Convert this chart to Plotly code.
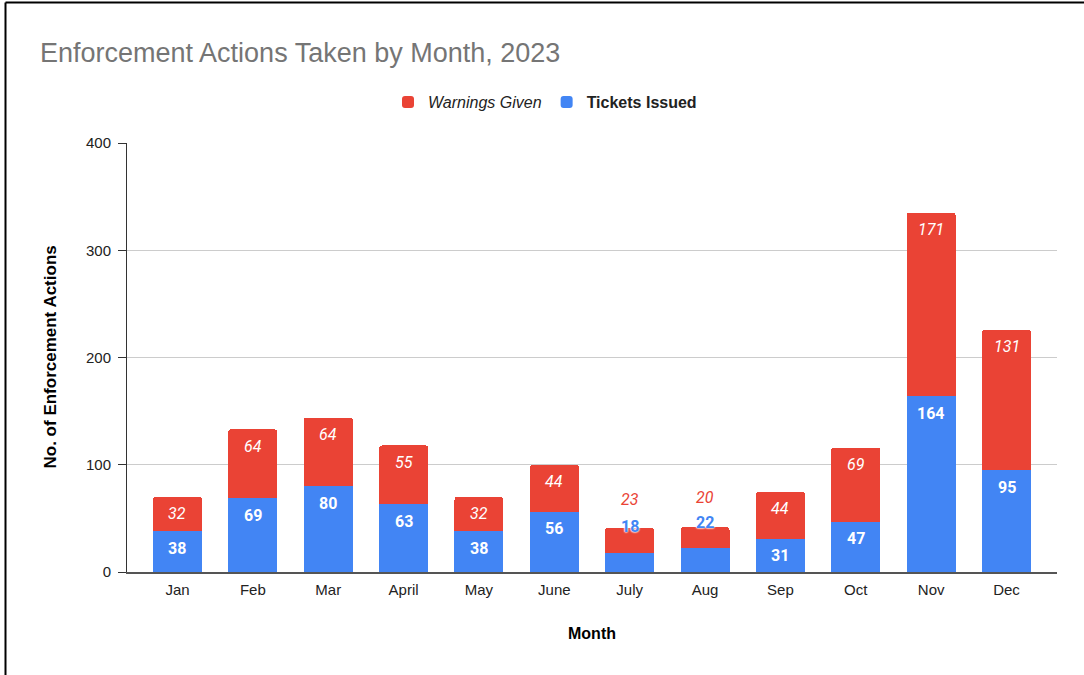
import plotly.graph_objects as go

months = ["Jan", "Feb", "Mar", "April", "May", "June", "July", "Aug", "Sep", "Oct", "Nov", "Dec"]
tickets = [38, 69, 80, 63, 38, 56, 18, 22, 31, 47, 164, 95]
warnings = [32, 64, 64, 55, 32, 44, 23, 20, 44, 69, 171, 131]

RED = "#EA4335"
BLUE = "#4285F4"
FONT = "Arial, Liberation Sans, sans-serif"
LABEL_FONT = "Roboto, Arial, sans-serif"

# plot area in pixels (from the reference)
W, H = 1084, 675
L, R, T, B = 127, 1057, 143, 572


def px_x(x):
    return (x - L) / (R - L)


def px_y(y):
    return (B - y) / (B - T)


fig = go.Figure()

fig.add_trace(go.Bar(
    x=months, y=tickets, name="<b>Tickets Issued</b>",
    marker=dict(color=BLUE, line=dict(width=0)),
))
fig.add_trace(go.Bar(
    x=months, y=warnings, name="<i>Warnings Given</i>",
    marker=dict(color=RED, line=dict(width=0)),
))

# data labels, placed near the top of each segment
annotations = []
for m, t, w in zip(months, tickets, warnings):
    small = w < 25
    if small:
        annotations.append(dict(
            x=m, y=t, text=str(t), showarrow=False, yshift=26,
            font=dict(family=LABEL_FONT, size=16, color=BLUE, weight="bold",
                      shadow="0 0 2px white, 0 0 2px white, 0 0 2px white"),
        ))
        annotations.append(dict(
            x=m, y=t + w, text=str(w), showarrow=False, yshift=29,
            font=dict(family=LABEL_FONT, size=16, color=RED, style="italic"),
        ))
    else:
        annotations.append(dict(
            x=m, y=t, text=str(t), showarrow=False, yshift=-17,
            font=dict(family=LABEL_FONT, size=16, color="white", weight="bold"),
        ))
        annotations.append(dict(
            x=m, y=t + w, text=str(w), showarrow=False, yshift=-17,
            font=dict(family=LABEL_FONT, size=16, color="white", style="italic"),
        ))

# axis titles
annotations.append(dict(
    xref="paper", yref="paper", x=px_x(50), y=0.5, text="<b>No. of Enforcement Actions</b>",
    textangle=-90, showarrow=False, xanchor="center", yanchor="middle",
    font=dict(family=FONT, size=17, color="#000"),
))
annotations.append(dict(
    xref="paper", yref="paper", x=px_x(592), y=px_y(633), text="<b>Month</b>",
    showarrow=False, xanchor="center", yanchor="middle",
    font=dict(family=FONT, size=16, color="#000"),
))

# screenshot border on the top and left edges
shapes = [
    dict(type="line", xref="paper", yref="paper", x0=px_x(5.5), x1=px_x(5.5),
         y0=px_y(2.5), y1=px_y(H + 5), line=dict(color="black", width=2)),
    dict(type="line", xref="paper", yref="paper", x0=px_x(5.5), x1=px_x(W + 5),
         y0=px_y(2.5), y1=px_y(2.5), line=dict(color="black", width=2)),
]

fig.update_layout(
    width=W, height=H,
    margin=dict(l=L, r=W - R, t=T, b=H - B, autoexpand=False),
    paper_bgcolor="white", plot_bgcolor="white",
    barmode="stack", bargap=0.35, barcornerradius=3,
    font=dict(family=FONT, size=15, color="#222"),
    title=dict(
        text="Enforcement Actions Taken by Month, 2023",
        xref="container", yref="container", x=40 / W, y=1 - 53 / H,
        xanchor="left", yanchor="middle",
        font=dict(family=FONT, size=27, color="#757575"),
    ),
    legend=dict(
        orientation="h", traceorder="reversed",
        xref="container", yref="container", x=545 / W, y=1 - 102 / H,
        xanchor="center", yanchor="middle",
        font=dict(family=FONT, size=16, color="#222"),
    ),
    xaxis=dict(
        range=[-0.67, 11.67], showgrid=False, showline=True, linecolor="#555", linewidth=2,
        ticks="", tickfont=dict(size=15, color="#222"), ticklabelstandoff=3, fixedrange=True,
    ),
    yaxis=dict(
        range=[0, 400], dtick=100, showgrid=True, gridcolor="#cccccc", gridwidth=1,
        showline=True, linecolor="#333", linewidth=1, ticks="outside", ticklen=8,
        tickcolor="#333", tickfont=dict(size=15, color="#222"), ticklabelstandoff=4,
        zeroline=False, fixedrange=True,
    ),
    annotations=annotations,
    shapes=shapes,
)

# drop the browser's default body margin so the figure sits at the page origin
fig.write_html("out.html", config={"displayModeBar": False},
               post_script="document.body.style.margin='0';")
